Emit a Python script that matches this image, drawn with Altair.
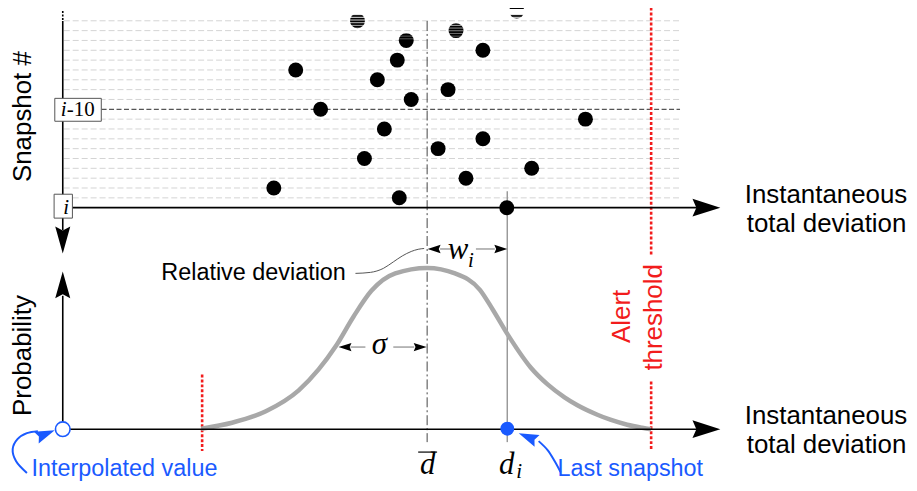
import altair as alt
import pandas as pd

# ---------------- data ----------------
# snapshot history: offset k means snapshot "i-k"; value = instantaneous total deviation
snap_offset = list(range(0, 21))
snap_dev = [509, 401, 275, 468, 534, 366, 440, 485, 386, 588,
            322, 413, 450, 379, 297, 399, 485, 408, 458, 359, 519]

# relative deviation distribution (bell curve)
curve_x = [202, 233, 267, 300, 320, 337, 355, 373, 397, 429, 457,
           482, 495, 510, 533, 550, 567, 580, 600, 613, 630, 645, 654]
curve_y = [429.5, 423.5, 412, 391, 370, 347, 317, 291, 273.5, 268, 273.5,
           290, 310, 335, 368, 385, 398, 406, 415.5, 420.5, 425.5, 428.5, 430]

D_BAR = 429        # mean deviation
D_I = 509.5        # last snapshot deviation
ALERT = 654        # alert threshold
LOWER = 203        # lower limit
INTERP = 63        # interpolated value (at origin)

# ---------------- layout constants ----------------
AX_X = 63
TOP_AXIS_Y = 207.5
BOT_AXIS_Y = 430
SNAP_STEP = 9.88
GRID_END = 683

BLUE = "#1a5aff"
RED = "#f21c1c"
SANS = "Liberation Sans"
SERIF = "Liberation Serif"

XS = alt.Scale(domain=[8, 913])
YS = alt.Scale(domain=[8, 483], reverse=True)


def X(f="x"):
    return alt.X(f"{f}:Q", scale=XS, axis=None)


def Y(f="y"):
    return alt.Y(f"{f}:Q", scale=YS, axis=None)


def rules(rows, **kw):
    df = pd.DataFrame(rows, columns=["x", "x2", "y", "y2"])
    return alt.Chart(df).mark_rule(**kw).encode(
        x=X("x"), x2="x2:Q", y=Y("y"), y2="y2:Q")


def texts(rows, **kw):
    df = pd.DataFrame(rows, columns=["x", "y", "t"])
    return alt.Chart(df).mark_text(**kw).encode(x=X("x"), y=Y("y"), text="t:N")


def snap_y(k):
    return TOP_AXIS_Y - SNAP_STEP * k


layers = []

# light dashed gridlines for previous snapshots
grid_rows = [(AX_X + 1, GRID_END, snap_y(k), snap_y(k)) for k in range(1, 20) if k != 10]
layers.append(rules(grid_rows, color="#d4d4d4", strokeWidth=1, strokeDash=[6, 3]))
# dark dashed line at i-10
layers.append(rules([(102, GRID_END, snap_y(10), snap_y(10))],
                    color="#555555", strokeWidth=1.3, strokeDash=[5, 2.5]))

# mean dash-dot line
layers.append(rules([(D_BAR, D_BAR, 20, 443)], color="#444444", strokeWidth=1,
                    strokeDash=[10, 3, 2, 3]))
# last snapshot gray line
layers.append(rules([(D_I, D_I, 191, 443)], color="#9a9a9a", strokeWidth=1.5))

# red dotted threshold lines
layers.append(rules([(ALERT, ALERT, 6.5, 255), (ALERT, ALERT, 382, 451),
                     (LOWER, LOWER, 375, 452)],
                    color=RED, strokeWidth=2.6, strokeDash=[3, 2]))

# bell curve
curve_df = pd.DataFrame({"x": curve_x, "y": curve_y})
layers.append(alt.Chart(curve_df).mark_line(color="#a8a8a8", strokeWidth=4.5,
                                            interpolate="monotone")
              .encode(x=X("x"), y=Y("y")))

# axes lines
layers.append(rules([(72, 700, TOP_AXIS_Y, TOP_AXIS_Y), (AX_X, 700, BOT_AXIS_Y, BOT_AXIS_Y),
                     (AX_X, AX_X, 20, 230), (AX_X, AX_X, 296, BOT_AXIS_Y)],
                    color="black", strokeWidth=1.6))
layers.append(rules([(AX_X, AX_X, 10, 20)], color="black", strokeWidth=1.6, strokeDash=[2, 1.5]))

# snapshot dots
dots_df = pd.DataFrame({"x": snap_dev, "y": [snap_y(k) for k in snap_offset]})
layers.append(alt.Chart(dots_df).mark_circle(size=225, color="black", opacity=1)
              .encode(x=X("x"), y=Y("y")))

# fading stripes over the oldest snapshots
stripe_rows = []
stripe_w = []
for dx, k in zip(snap_dev, snap_offset):
    dy = snap_y(k)
    if dy < 45:
        for n in range(10):
            sy = 13.6 + 2.7 * n
            if abs(sy - dy) < 8.6 and sy < 38:
                stripe_rows.append((dx - 9, dx + 9, sy, sy))
                stripe_w.append(max(0.35, 1.0 - 0.08 * n))
sdf = pd.DataFrame(stripe_rows, columns=["x", "x2", "y", "y2"])
sdf["w"] = stripe_w
layers.append(alt.Chart(sdf).mark_rule(color="white").encode(
    x=X("x"), x2="x2:Q", y=Y("y"), y2="y2:Q", strokeWidth=alt.StrokeWidth("w:Q", scale=None)))
# mask above the oldest row
mask_df = pd.DataFrame({"x": [300], "x2": [560], "y": [8], "y2": [13.3]})
layers.append(alt.Chart(mask_df).mark_rect(color="white").encode(
    x=X("x"), x2="x2:Q", y=Y("y"), y2="y2:Q"))

# boxes for i-10 and i labels
box_df = pd.DataFrame({"x": [55, 54.3], "x2": [101.7, 72.7], "y": [97.7, 194], "y2": [120.7, 218]})
layers.append(alt.Chart(box_df).mark_rect(fill="white", stroke="#555555", strokeWidth=1).encode(
    x=X("x"), x2="x2:Q", y=Y("y"), y2="y2:Q"))

# overline of d-bar
layers.append(rules([(420, 439, 453, 453)], color="black", strokeWidth=1.2))

# arrow connectors (gray) for w_i and sigma
layers.append(rules([(442, 454, 249, 249), (478, 497, 249, 249),
                     (352, 367, 347.5, 347.5), (395, 416, 347.5, 347.5)],
                    color="#8a8a8a", strokeWidth=1.2))

# leader for "Relative deviation"
lead_df = pd.DataFrame({"x": [357, 372, 385, 395, 404, 413, 420, 426],
                        "y": [273.5, 272.5, 268.5, 262, 256, 251.5, 249.3, 248.5]})
layers.append(alt.Chart(lead_df).mark_line(color="#555555", strokeWidth=1, interpolate="monotone")
              .encode(x=X("x"), y=Y("y")))

# blue pointer curves
blue1 = pd.DataFrame({"x": [27, 16, 12.7, 17.5, 27, 38],
                      "y": [474, 462, 450, 440, 434, 432], "o": list(range(6))})
blue2 = pd.DataFrame({"x": [563, 557, 550, 541],
                      "y": [473, 462, 451, 442], "o": list(range(4))})
for b in (blue1, blue2):
    layers.append(alt.Chart(b).mark_line(color=BLUE, strokeWidth=2, interpolate="catmull-rom")
                  .encode(x=X("x"), y=Y("y"), order="o:Q"))

# blue markers
layers.append(alt.Chart(pd.DataFrame({"x": [INTERP], "y": [BOT_AXIS_Y]}))
              .mark_point(shape="circle", size=215, fill="white", filled=False, stroke=BLUE,
                          strokeWidth=1.6, opacity=1)
              .encode(x=X("x"), y=Y("y")))
layers.append(alt.Chart(pd.DataFrame({"x": [D_I], "y": [429.5]}))
              .mark_circle(size=195, color=BLUE, opacity=1)
              .encode(x=X("x"), y=Y("y")))

# arrowheads (custom path pointing right, rotated by angle)
ARROW = "M1,0L-1,-0.64L-0.72,0L-1,0.64Z"
ARROW_N = "M1,0L-1,-0.56L-0.7,0L-1,0.56Z"
heads = [
    # x, y, angle, size, color, shape
    (709.5, TOP_AXIS_Y, 0, 784, "black", ARROW),
    (709.5, BOT_AXIS_Y, 0, 784, "black", ARROW),
    (AX_X, 240, 90, 729, "black", ARROW_N),
    (AX_X, 285, 270, 729, "black", ARROW_N),
    (436, 249, 180, 169, "black", ARROW),
    (503, 249, 0, 169, "black", ARROW),
    (346.5, 347.5, 180, 169, "black", ARROW),
    (422, 347.5, 0, 169, "black", ARROW),
    (45.7, 434.7, 338, 400, BLUE, ARROW),
    (530.2, 437.9, 203, 400, BLUE, ARROW),
]
for hx, hy, ha, hs, hc, shp in heads:
    hdf = pd.DataFrame({"x": [hx], "y": [hy], "a": [ha]})
    layers.append(alt.Chart(hdf).mark_point(shape=shp, size=hs, filled=True, fill=hc,
                                            strokeWidth=0, opacity=1)
                  .encode(x=X("x"), y=Y("y"), angle=alt.Angle("a:Q", scale=None)))

# ---------------- texts ----------------
layers.append(texts([(31, 116, "Snapshot #"), (31.5, 356, "Probability")],
                    angle=270, align="center", baseline="alphabetic", font=SANS, fontSize=26,
                    color="black"))
layers.append(texts([(633, 316.7, "Alert"), (665, 317.7, "threshold")],
                    angle=270, align="center", baseline="alphabetic", font=SANS, fontSize=26,
                    color=RED))
layers.append(texts([(748, 202.5, "Instantaneous"), (750, 231.7, "total deviation"),
                     (748, 424.3, "Instantaneous"), (750, 454, "total deviation")],
                    align="left", baseline="alphabetic", font=SANS, fontSize=26, color="black"))
layers.append(texts([(162, 280, "Relative deviation")],
                    align="left", baseline="alphabetic", font=SANS, fontSize=23.5, color="black"))
layers.append(texts([(31.7, 477.5, "Interpolated value"), (560, 477.5, "Last snapshot")],
                    align="left", baseline="alphabetic", font=SANS, fontSize=23.5, color=BLUE))

# math symbols
layers.append(texts([(429.5, 475.5, "d"), (509, 475.5, "d"), (460, 259, "w"), (381, 354, "σ")],
                    align="center", baseline="alphabetic", font=SERIF, fontStyle="italic",
                    fontSize=31, color="black"))
layers.append(texts([(521.5, 479, "i"), (473, 267, "i")],
                    align="center", baseline="alphabetic", font=SERIF, fontStyle="italic",
                    fontSize=21, color="black"))
layers.append(texts([(61, 115.7, "i"), (63.5, 213.5, "i")],
                    align="left", baseline="alphabetic", font=SERIF, fontStyle="italic",
                    fontSize=21, color="black"))
layers.append(texts([(67, 115.7, "-10")],
                    align="left", baseline="alphabetic", font=SERIF, fontSize=21, color="black"))

chart = alt.layer(*layers).properties(
    width=905, height=475, padding=0, autosize="none"
).configure_view(stroke=None)

chart.save("out.html", embed_options={"renderer": "svg", "actions": False})
